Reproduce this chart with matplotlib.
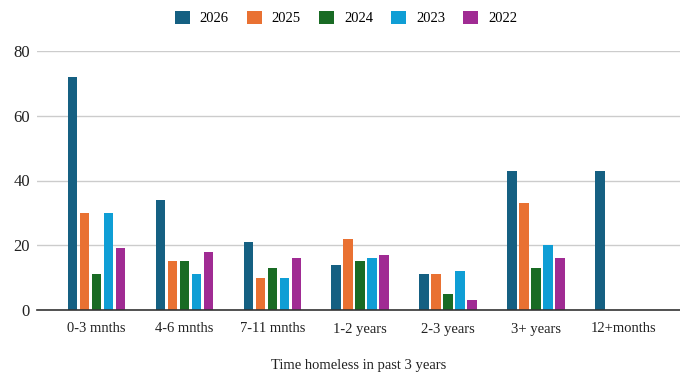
import numpy as np
import matplotlib
matplotlib.use("Agg")
import matplotlib.pyplot as plt
from matplotlib.patches import Patch

# Categories and series values
categories = ["0-3 mnths", "4-6 mnths", "7-11 mnths", "1-2 years", "2-3 years", "3+ years", "12+months"]
years = ["2026", "2025", "2024", "2023", "2022"]
v2026 = [72, 34, 21, 14, 11, 43, 43]
v2025 = [30, 15, 10, 22, 11, 33, 0]
v2024 = [11, 15, 13, 15, 5, 13, 0]
v2023 = [30, 11, 10, 16, 12, 20, 0]
v2022 = [19, 18, 16, 17, 3, 16, 0]
colors = ["#156082", "#E97132", "#196B24", "#0F9ED5", "#A02B93"]

plt.rcParams["font.family"] = ["Liberation Serif", "DejaVu Serif"]

fig = plt.figure(figsize=(6.8, 3.75), dpi=100)
ax = fig.add_axes([37 / 680, 1 - 310 / 375, 643 / 680, 259 / 375])

x = np.arange(len(categories))
step = 0.1365
width = 0.11
series = [v2026, v2025, v2024, v2023, v2022]
for i, (vals, c) in enumerate(zip(series, colors)):
    vals = np.array(vals, dtype=float)
    mask = vals > 0
    ax.bar(x[mask] + (i - 2) * step, vals[mask], width=width, color=c, zorder=3)

ax.set_ylim(0, 80)
ax.set_xlim(-0.677, 6.637)
ax.set_yticks([0, 20, 40, 60, 80])
ax.set_xticks(x)
ax.set_xticklabels(categories)
ax.yaxis.grid(True, color="#cccccc", linewidth=1)
ax.set_axisbelow(True)
for s in ["top", "right", "left"]:
    ax.spines[s].set_visible(False)
ax.spines["bottom"].set_color("#333333")
ax.spines["bottom"].set_linewidth(1.2)
ax.spines["bottom"].set_zorder(4)
ax.tick_params(axis="both", length=0, labelsize=10.5, colors="#222222")
ax.tick_params(axis="x", pad=9)
ax.tick_params(axis="y", pad=5, labelsize=12)
ax.set_xlabel("Time homeless in past 3 years", fontsize=10.5, labelpad=17, color="#222222")

handles = [Patch(facecolor=c, label=y) for y, c in zip(years, colors)]
fig.legend(handles=handles, loc="center", bbox_to_anchor=(346 / 680, 1 - 18 / 375), ncol=5,
           frameon=False, fontsize=10.5, handlelength=1.0, handleheight=1.0,
           handletextpad=0.7, columnspacing=1.25)

fig.savefig("out.png", dpi=100)
